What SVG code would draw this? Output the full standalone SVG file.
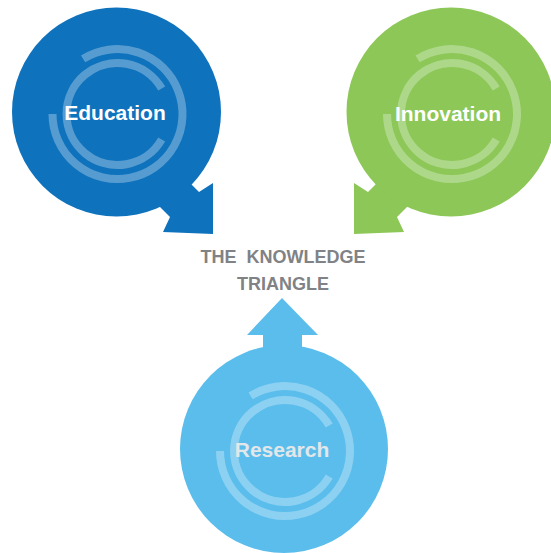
<svg xmlns="http://www.w3.org/2000/svg" xmlns:xlink="http://www.w3.org/1999/xlink" width="551" height="553" viewBox="0 0 551 553">
  <style>
    .ring { fill: none; stroke: #ffffff; stroke-opacity: 0.3; stroke-width: 8; }
    .label { font-family: "Liberation Sans", Arial, sans-serif; font-weight: bold; font-size: 21px; text-anchor: middle; }
    .title { font-family: "Liberation Sans", Arial, sans-serif; font-weight: bold; font-size: 18px; fill: #808285; text-anchor: middle; }
    .edu { fill: #0e72bd; }
    .inn { fill: #8cc757; }
    .res { fill: #5bbdec; }
  </style>
  <defs>
    <g id="rings">
      <path class="ring" d="M -33.4 -53.1 A 65 65 0 1 1 -64 2"/>
      <path class="ring" d="M 45.2 -23.5 A 51 51 0 1 0 45.2 27.5"/>
    </g>
  </defs>
  <rect width="551" height="553" fill="#ffffff"/>

  <g id="connectors">
    <polygon class="edu" points="180,173 199,192 213,183 213,234 163,232 170,217 150,197"/>
    <polygon class="inn" points="387,173 368,192 354,183 354,234 404,232 397,217 417,197"/>
    <polygon class="res" points="282,298 318,335 302,335 302,352 263,352 263,335 247,335"/>
  </g>

  <g id="education">
    <circle class="edu" cx="116.5" cy="112" r="104.5"/>
    <use xlink:href="#rings" href="#rings" transform="translate(116.5,112)"/>
    <text class="label" x="115" y="120" fill="#ffffff">Education</text>
  </g>

  <g id="innovation">
    <circle class="inn" cx="451" cy="112" r="104.5"/>
    <use xlink:href="#rings" href="#rings" transform="translate(451,112)"/>
    <text class="label" x="448" y="121" fill="#ffffff">Innovation</text>
  </g>

  <g id="research">
    <circle class="res" cx="284" cy="449" r="104"/>
    <use xlink:href="#rings" href="#rings" transform="translate(284,449)"/>
    <text class="label" x="282" y="457" fill="#e2e7ea">Research</text>
  </g>

  <g id="title">
    <text class="title" x="283" y="263" word-spacing="5">THE KNOWLEDGE</text>
    <text class="title" x="283" y="290">TRIANGLE</text>
  </g>
</svg>
